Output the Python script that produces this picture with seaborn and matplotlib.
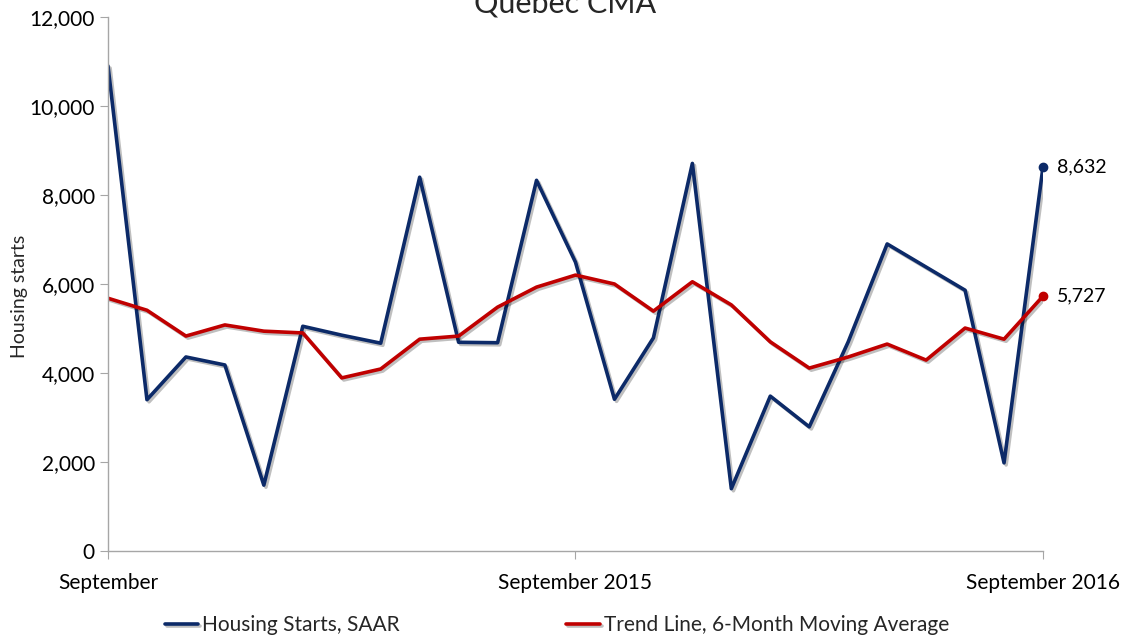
import pandas as pd
import matplotlib
matplotlib.use("Agg")
import matplotlib.pyplot as plt
import matplotlib.patheffects as pe
import seaborn as sns

sns.set_style("white")
plt.rcParams['font.family'] = ['Lato', 'DejaVu Sans']

# monthly, September 2014 -> September 2016
months = pd.date_range("2014-09-01", "2016-09-01", freq="MS")
starts = [10900, 3400, 4360, 4180, 1480, 5050, 4850, 4670, 8400, 4690,
          4680, 8330, 6490, 3410, 4790, 8710, 1400, 3480, 2790, 4700,
          6900, 6380, 5860, 1980, 8632]
trend = [5680, 5410, 4830, 5080, 4940, 4900, 3890, 4090, 4760, 4830,
         5480, 5930, 6200, 6000, 5390, 6050, 5530, 4700, 4110, 4360,
         4650, 4290, 5010, 4760, 5727]
tick_pos = [0, 12, 24]
tick_labels = ["September", "September 2015", "September 2016"]

df = pd.DataFrame({"t": range(len(months)), "starts": starts, "trend": trend})

navy = "#0c2a68"
red = "#c00000"
shadow = [pe.SimpleLineShadow(offset=(1.5, -1.5), alpha=0.25), pe.Normal()]

fig = plt.figure(figsize=(11.31, 6.4), dpi=100)
ax = fig.add_axes([108 / 1131, 1 - 551 / 640, (1043 - 108) / 1131, (551 - 17) / 640])

sns.lineplot(data=df, x="t", y="starts", color=navy, linewidth=2.6, ax=ax,
             label="Housing Starts, SAAR", path_effects=shadow)
sns.lineplot(data=df, x="t", y="trend", color=red, linewidth=2.6, ax=ax,
             label="Trend Line, 6-Month Moving Average", path_effects=shadow)

last = df.iloc[-1]
ax.plot(last["t"], last["starts"], "o", color=navy, ms=6, clip_on=False)
ax.plot(last["t"], last["trend"], "o", color=red, ms=6, clip_on=False)
ax.annotate(f"{int(last['starts']):,}", (last["t"], last["starts"]), xytext=(10, 0),
            textcoords="offset points", va="center", fontsize=14, color="black")
ax.annotate(f"{int(last['trend']):,}", (last["t"], last["trend"]), xytext=(10, 0),
            textcoords="offset points", va="center", fontsize=14, color="black")

ax.set_xlim(0, 24)
ax.set_ylim(0, 12000)
ax.set_yticks(range(0, 12001, 2000))
ax.set_yticklabels([f"{v:,}" for v in range(0, 12001, 2000)])
ax.set_xticks(tick_pos)
ax.set_xticklabels(tick_labels)
ax.set_xlabel("")
ax.set_ylabel("Housing starts", fontsize=14)
ax.yaxis.set_label_coords(-0.086, 0.477)

for s in ["top", "right"]:
    ax.spines[s].set_visible(False)
for s in ["left", "bottom"]:
    ax.spines[s].set_color("#a6a6a6")
    ax.spines[s].set_linewidth(1)
ax.tick_params(axis="both", direction="out", length=6, color="#a6a6a6",
               labelsize=15, labelcolor="black", left=True, bottom=True)
ax.tick_params(axis="x", pad=10)

fig.text(565 / 1131, 0.995, "Quebec CMA", ha="center", va="center", fontsize=22)

ax.legend(loc="upper center", bbox_to_anchor=(0.48, -0.085), ncol=2, frameon=False,
          fontsize=15, handlelength=1.6, handletextpad=0.2, columnspacing=8)

fig.savefig("out.png", dpi=100)
